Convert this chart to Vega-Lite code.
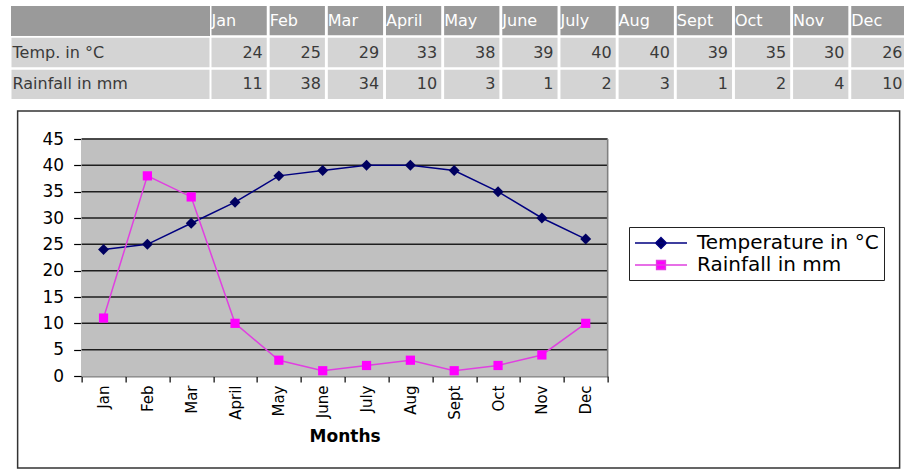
{
  "$schema": "https://vega.github.io/schema/vega-lite/v6.json",
  "background": "white",
  "padding": {"left": 9, "top": 6, "right": 0, "bottom": 0},
  "datasets": {
    "tbl": [
      {"month": "Jan", "row": "Temp. in °C", "value": 24},
      {"month": "Feb", "row": "Temp. in °C", "value": 25},
      {"month": "Mar", "row": "Temp. in °C", "value": 29},
      {"month": "April", "row": "Temp. in °C", "value": 33},
      {"month": "May", "row": "Temp. in °C", "value": 38},
      {"month": "June", "row": "Temp. in °C", "value": 39},
      {"month": "July", "row": "Temp. in °C", "value": 40},
      {"month": "Aug", "row": "Temp. in °C", "value": 40},
      {"month": "Sept", "row": "Temp. in °C", "value": 39},
      {"month": "Oct", "row": "Temp. in °C", "value": 35},
      {"month": "Nov", "row": "Temp. in °C", "value": 30},
      {"month": "Dec", "row": "Temp. in °C", "value": 26},
      {"month": "Jan", "row": "Rainfall in mm", "value": 11},
      {"month": "Feb", "row": "Rainfall in mm", "value": 38},
      {"month": "Mar", "row": "Rainfall in mm", "value": 34},
      {"month": "April", "row": "Rainfall in mm", "value": 10},
      {"month": "May", "row": "Rainfall in mm", "value": 3},
      {"month": "June", "row": "Rainfall in mm", "value": 1},
      {"month": "July", "row": "Rainfall in mm", "value": 2},
      {"month": "Aug", "row": "Rainfall in mm", "value": 3},
      {"month": "Sept", "row": "Rainfall in mm", "value": 1},
      {"month": "Oct", "row": "Rainfall in mm", "value": 2},
      {"month": "Nov", "row": "Rainfall in mm", "value": 4},
      {"month": "Dec", "row": "Rainfall in mm", "value": 10}
    ],
    "series": [
      {"month": "Jan", "series": "Temperature in °C", "value": 24},
      {"month": "Feb", "series": "Temperature in °C", "value": 25},
      {"month": "Mar", "series": "Temperature in °C", "value": 29},
      {"month": "April", "series": "Temperature in °C", "value": 33},
      {"month": "May", "series": "Temperature in °C", "value": 38},
      {"month": "June", "series": "Temperature in °C", "value": 39},
      {"month": "July", "series": "Temperature in °C", "value": 40},
      {"month": "Aug", "series": "Temperature in °C", "value": 40},
      {"month": "Sept", "series": "Temperature in °C", "value": 39},
      {"month": "Oct", "series": "Temperature in °C", "value": 35},
      {"month": "Nov", "series": "Temperature in °C", "value": 30},
      {"month": "Dec", "series": "Temperature in °C", "value": 26},
      {"month": "Jan", "series": "Rainfall in mm", "value": 11},
      {"month": "Feb", "series": "Rainfall in mm", "value": 38},
      {"month": "Mar", "series": "Rainfall in mm", "value": 34},
      {"month": "April", "series": "Rainfall in mm", "value": 10},
      {"month": "May", "series": "Rainfall in mm", "value": 3},
      {"month": "June", "series": "Rainfall in mm", "value": 1},
      {"month": "July", "series": "Rainfall in mm", "value": 2},
      {"month": "Aug", "series": "Rainfall in mm", "value": 3},
      {"month": "Sept", "series": "Rainfall in mm", "value": 1},
      {"month": "Oct", "series": "Rainfall in mm", "value": 2},
      {"month": "Nov", "series": "Rainfall in mm", "value": 4},
      {"month": "Dec", "series": "Rainfall in mm", "value": 10}
    ],
    "grid": [
      {"value": 5}, {"value": 10}, {"value": 15}, {"value": 20}, {"value": 25},
      {"value": 30}, {"value": 35}, {"value": 40}, {"value": 45}
    ]
  },
  "config": {
    "view": {"stroke": null},
    "font": "DejaVu Sans"
  },
  "spacing": 11,
  "center": true,
  "vconcat": [
    {
      "spacing": 2,
      "hconcat": [
        {
          "width": 198,
          "height": 93,
          "data": {"name": "tbl"},
          "layer": [
            {
              "mark": {"type": "rect", "color": "#9a9a9a"},
              "encoding": {
                "y": {"datum": "hdr", "type": "nominal", "scale": {"domain": ["hdr", "Temp. in °C", "Rainfall in mm"], "paddingInner": 0.08, "paddingOuter": 0}, "axis": null}
              }
            },
            {
              "transform": [{"aggregate": [{"op": "count", "as": "n"}], "groupby": ["row"]}],
              "mark": {"type": "rect", "color": "#d4d4d4"},
              "encoding": {
                "y": {"field": "row", "type": "nominal"}
              }
            },
            {
              "transform": [{"aggregate": [{"op": "count", "as": "n"}], "groupby": ["row"]}],
              "mark": {"type": "text", "align": "left", "font": "DejaVu Sans", "fontSize": 16, "color": "#3a3a3a", "x": 1},
              "encoding": {
                "y": {"field": "row", "type": "nominal"},
                "text": {"field": "row"}
              }
            }
          ]
        },
        {
          "width": 695,
          "height": 93,
          "data": {"name": "tbl"},
          "encoding": {
            "x": {"field": "month", "type": "ordinal", "sort": ["Jan","Feb","Mar","April","May","June","July","Aug","Sept","Oct","Nov","Dec"], "scale": {"paddingInner": 0.05, "paddingOuter": 0}, "axis": null}
          },
          "layer": [
            {
              "transform": [{"aggregate": [{"op": "count", "as": "n"}], "groupby": ["month"]}],
              "mark": {"type": "rect", "color": "#9a9a9a"},
              "encoding": {
                "y": {"datum": "hdr", "type": "nominal", "scale": {"domain": ["hdr", "Temp. in °C", "Rainfall in mm"], "paddingInner": 0.08, "paddingOuter": 0}, "axis": null}
              }
            },
            {
              "transform": [{"aggregate": [{"op": "count", "as": "n"}], "groupby": ["month"]}],
              "mark": {"type": "text", "align": "left", "font": "DejaVu Sans", "fontSize": 16, "color": "white", "dx": 0},
              "encoding": {
                "x": {"field": "month", "type": "ordinal", "sort": ["Jan","Feb","Mar","April","May","June","July","Aug","Sept","Oct","Nov","Dec"], "bandPosition": 0},
                "y": {"datum": "hdr", "type": "nominal"},
                "text": {"field": "month"}
              }
            },
            {
              "mark": {"type": "rect", "color": "#d4d4d4"},
              "encoding": {
                "y": {"field": "row", "type": "nominal"}
              }
            },
            {
              "mark": {"type": "text", "align": "right", "font": "DejaVu Sans", "fontSize": 16, "color": "#3a3a3a", "dx": -4},
              "encoding": {
                "x": {"field": "month", "type": "ordinal", "sort": ["Jan","Feb","Mar","April","May","June","July","Aug","Sept","Oct","Nov","Dec"], "bandPosition": 1},
                "y": {"field": "row", "type": "nominal"},
                "text": {"field": "value"}
              }
            }
          ]
        }
      ]
    },
    {
      "width": 882,
      "height": 357,
      "view": {"stroke": "#333333", "strokeWidth": 1.5, "fill": "white"},
      "data": {"name": "series"},
      "encoding": {
        "x": {
          "field": "month", "type": "ordinal",
          "sort": ["Jan","Feb","Mar","April","May","June","July","Aug","Sept","Oct","Nov","Dec"],
          "scale": {"paddingInner": 0, "paddingOuter": 0, "range": [64, 590]},
          "axis": {
            "offset": -92,
            "title": "Months", "titleFont": "DejaVu Sans", "titleFontSize": 17, "titleFontWeight": "bold", "titleColor": "black", "titlePadding": 9,
            "labelAngle": 270, "labelFont": "DejaVu Sans", "labelFontSize": 15, "labelColor": "black", "labelPadding": 3,
            "tickBand": "extent", "tickSize": 6, "tickColor": "black", "tickWidth": 1.2, "domainColor": "black", "domainWidth": 1.5, "grid": false
          }
        },
        "y": {
          "field": "value", "type": "quantitative",
          "scale": {"domain": [0, 45], "nice": false, "zero": false, "range": [265, 28]},
          "axis": {
            "offset": -64,
            "title": null, "values": [0,5,10,15,20,25,30,35,40,45],
            "labelFont": "DejaVu Sans", "labelFontSize": 17, "labelColor": "black", "labelPadding": 10,
            "tickSize": 8, "tickColor": "black", "tickWidth": 1.2, "domainColor": "black", "domainWidth": 1.5,
            "grid": false
          }
        },
        "color": {
          "field": "series", "type": "nominal",
          "scale": {"domain": ["Temperature in °C", "Rainfall in mm"], "range": ["#000080", "#e040e0"]},
          "legend": {
            "title": null, "orient": "none", "legendX": 618, "legendY": 221,
            "strokeColor": "#222222", "fillColor": "white", "padding": 5, "rowPadding": 1, "labelLimit": 400,
            "labelFont": "DejaVu Sans", "labelFontSize": 20, "labelColor": "black",
            "symbolSize": 400, "symbolStrokeWidth": 1.3, "symbolOffset": 16, "labelOffset": 25,
            "encode": {"symbols": {"update": {
              "shape": {"signal": "datum.value === 'Temperature in °C' ? 'M-2.6,0L2.6,0M0,-0.55L0.55,0L0,0.55L-0.55,0Z' : 'M-2.6,0L2.6,0M-0.45,-0.45L0.45,-0.45L0.45,0.45L-0.45,0.45Z'"},
              "fill": {"signal": "datum.value === 'Temperature in °C' ? '#000060' : '#ff00ff'"}
            }}}
          }
        }
      },
      "layer": [
        {
          "mark": {"type": "bar", "color": "#c0c0c0", "stroke": "#c0c0c0", "strokeWidth": 1, "opacity": 1},
          "encoding": {
            "y": {"datum": 45, "type": "quantitative"},
            "y2": {"datum": 0},
            "width": {"band": 1},
            "color": null
          }
        },
        {
          "data": {"name": "grid"},
          "mark": {"type": "rule", "color": "#1e1e1e", "strokeWidth": 1.5},
          "encoding": {
            "x": {"datum": "Jan", "bandPosition": 0},
            "x2": {"datum": "Dec", "bandPosition": 1},
            "y": {"field": "value", "type": "quantitative"},
            "color": null
          }
        },
        {
          "data": {"name": "grid"},
          "transform": [{"filter": "datum.value === 45"}],
          "mark": {"type": "rule", "color": "#808080", "strokeWidth": 1.5},
          "encoding": {
            "x": {"datum": "Dec", "bandPosition": 1},
            "y": {"datum": 0, "type": "quantitative"},
            "y2": {"datum": 45},
            "color": null
          }
        },
        {
          "mark": {"type": "line", "strokeWidth": 1.5},
          "encoding": {}
        },
        {
          "transform": [{"filter": "datum.series === 'Temperature in °C'"}],
          "mark": {"type": "point", "shape": "diamond", "filled": true, "size": 120, "color": "#000060", "opacity": 1},
          "encoding": {"color": null}
        },
        {
          "transform": [{"filter": "datum.series === 'Rainfall in mm'"}],
          "mark": {"type": "point", "shape": "square", "filled": true, "size": 85, "color": "#ff00ff", "opacity": 1},
          "encoding": {"color": null}
        }
      ]
    }
  ]
}
